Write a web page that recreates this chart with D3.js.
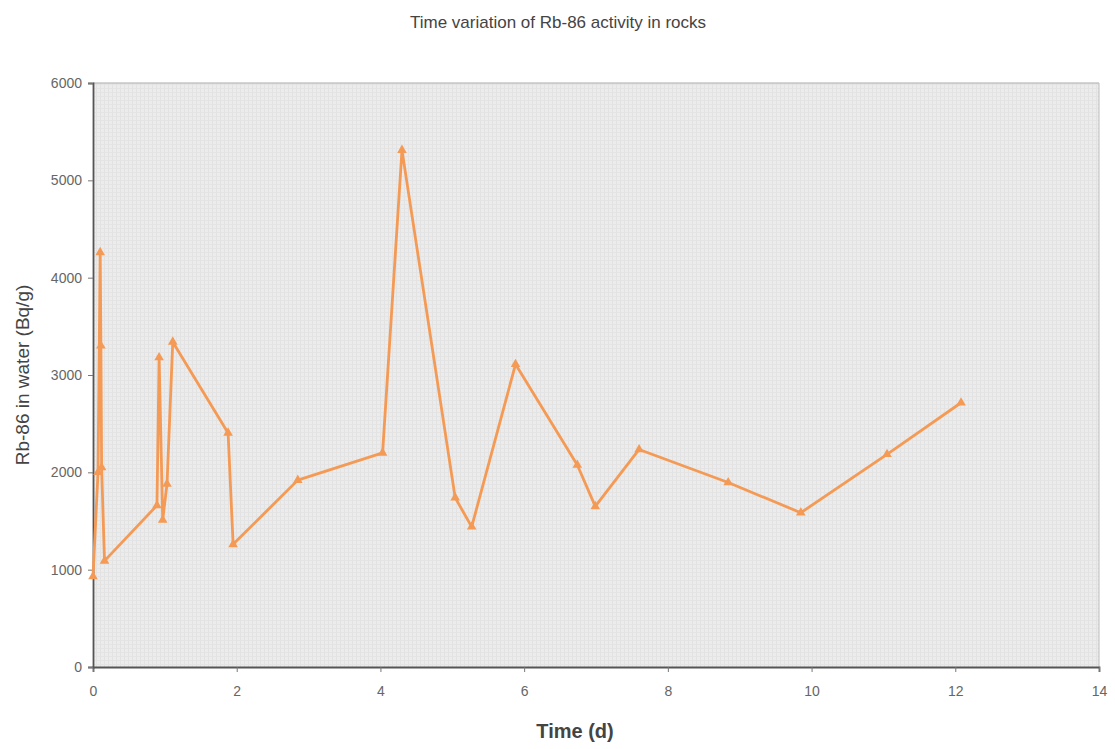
<!DOCTYPE html>
<html>
<head>
<meta charset="utf-8">
<script src="https://cdn.jsdelivr.net/npm/d3@7"></script>
<style>
  body { margin: 0; background: #fff; }
  svg { font-family: "Liberation Sans", Arial, sans-serif; }
</style>
</head>
<body>
<svg id="chart" width="1115" height="749"></svg>
<script>
// values
var times = [0.0, 0.07, 0.1, 0.11, 0.12, 0.16, 0.89, 0.92, 0.97, 1.03, 1.11, 1.88, 1.95, 2.85,
             4.03, 4.3, 5.04, 5.27, 5.88, 6.74, 6.99, 7.6, 8.84, 9.85, 11.05, 12.08];
var activity = [930, 2000, 4260, 3300, 2050, 1090, 1660, 3180, 1510, 1880, 3340, 2405, 1260, 1920,
                2200, 5310, 1740, 1440, 3110, 2075, 1650, 2235, 1895, 1585, 2185, 2715];
var xTicks = [0, 2, 4, 6, 8, 10, 12, 14];
var yTicks = [0, 1000, 2000, 3000, 4000, 5000, 6000];

var svg = d3.select('#chart');
var pLeft = 93, pRight = 1099, pTop = 83, pBottom = 667;

var x = d3.scaleLinear().domain([0, 14]).range([pLeft, pRight]);
var y = d3.scaleLinear().domain([0, 6000]).range([pBottom, pTop]);

// dotted grey plot background
var defs = svg.append('defs');
var pat = defs.append('pattern').attr('id', 'dots')
    .attr('width', 4).attr('height', 4).attr('patternUnits', 'userSpaceOnUse');
pat.append('rect').attr('width', 4).attr('height', 4).attr('fill', '#ececec');
pat.append('rect').attr('width', 1).attr('height', 4).attr('fill', '#e2e2e2');
pat.append('rect').attr('width', 4).attr('height', 1).attr('fill', '#e4e4e4');

svg.append('rect')
    .attr('x', pLeft).attr('y', pTop)
    .attr('width', pRight - pLeft).attr('height', pBottom - pTop)
    .attr('fill', 'url(#dots)');

// border lines
svg.append('line').attr('x1', pLeft).attr('x2', pRight).attr('y1', pTop).attr('y2', pTop)
    .attr('stroke', '#aaa').attr('stroke-width', 1);
svg.append('line').attr('x1', pRight).attr('x2', pRight).attr('y1', pTop).attr('y2', pBottom)
    .attr('stroke', '#bbb').attr('stroke-width', 1);

var xAxis = svg.append('g')
    .attr('transform', 'translate(0,' + pBottom + ')')
    .call(d3.axisBottom(x).tickValues(xTicks).tickSize(5).tickPadding(14).tickFormat(d3.format('d')));
var yAxis = svg.append('g')
    .attr('transform', 'translate(' + pLeft + ',0)')
    .call(d3.axisLeft(y).tickValues(yTicks).tickSize(5).tickPadding(6).tickFormat(d3.format('d')));

[xAxis, yAxis].forEach(function(g) {
    g.select('.domain').attr('stroke', '#555').attr('stroke-width', 1.8);
    g.selectAll('.tick line').attr('stroke', '#777');
    g.selectAll('.tick text').attr('fill', '#666').style('font-size', '14px');
});

// series
var pts = times.map(function(t, i) { return [t, activity[i]]; });
var orange = '#f59a55';

svg.append('path')
    .datum(pts)
    .attr('fill', 'none')
    .attr('stroke', orange)
    .attr('stroke-width', 2.8)
    .attr('stroke-linejoin', 'round')
    .attr('d', d3.line().x(function(d) { return x(d[0]); }).y(function(d) { return y(d[1]); }));

svg.selectAll('.mark')
    .data(pts)
    .enter().append('path')
    .attr('class', 'mark')
    .attr('transform', function(d) { return 'translate(' + x(d[0]) + ',' + y(d[1]) + ')'; })
    .attr('d', d3.symbol().type(d3.symbolTriangle).size(40))
    .attr('fill', orange);

// labels
svg.append('text')
    .attr('x', 558).attr('y', 28)
    .attr('text-anchor', 'middle')
    .attr('fill', '#444')
    .style('font-size', '17px')
    .text('Time variation of Rb-86 activity in rocks');

svg.append('text')
    .attr('x', 575).attr('y', 738)
    .attr('text-anchor', 'middle')
    .attr('fill', '#444')
    .style('font-size', '20px')
    .style('font-weight', 'bold')
    .text('Time (d)');

svg.append('text')
    .attr('transform', 'translate(29,375) rotate(-90)')
    .attr('text-anchor', 'middle')
    .attr('fill', '#444')
    .style('font-size', '19px')
    .text('Rb-86 in water (Bq/g)');
</script>
</body>
</html>
